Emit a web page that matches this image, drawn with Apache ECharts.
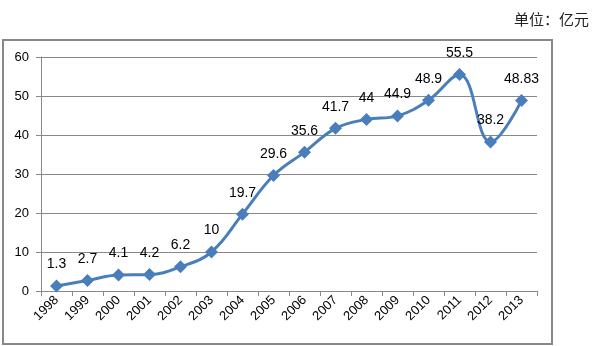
<!DOCTYPE html>
<html><head><meta charset="utf-8">
<script src="https://cdn.jsdelivr.net/npm/echarts@6/dist/echarts.min.js"></script>
<style>html,body{margin:0;padding:0;background:#fff}#c{width:598px;height:346px}</style>
</head><body><div id="c"></div>
<script>
const years = ['1998','1999','2000','2001','2002','2003','2004','2005','2006','2007','2008','2009','2010','2011','2012','2013'];
const values = [1.3, 2.7, 4.1, 4.2, 6.2, 10, 19.7, 29.6, 35.6, 41.7, 44, 44.9, 48.9, 55.5, 38.2, 48.83];
const yTicks = [0, 10, 20, 30, 40, 50, 60];
const unitText = '单位：亿元';

const chart = echarts.init(document.getElementById('c'), null, {renderer: 'canvas'});
const font = '"Liberation Sans", Arial, sans-serif';
chart.setOption({
  animation: false,
  textStyle: {fontFamily: font},
  title: {
    text: unitText, right: 4, top: 7,
    textStyle: {fontSize: 15, fontWeight: 'normal', color: '#222', fontFamily: '"Noto Sans CJK SC", sans-serif'}
  },
  graphic: [{
    type: 'rect', shape: {x: 3, y: 40, width: 549, height: 304},
    style: {fill: 'none', stroke: '#888', lineWidth: 2}, z: -1
  }],
  grid: {left: 41, right: 61, top: 57, bottom: 55, containLabel: false},
  xAxis: {
    type: 'category', data: years, boundaryGap: true,
    axisLine: {lineStyle: {color: '#888', width: 1}},
    axisTick: {show: true, interval: 0, length: 5, lineStyle: {color: '#888'}},
    axisLabel: {rotate: 45, interval: 0, fontSize: 13, color: '#000', margin: 7, fontFamily: font}
  },
  yAxis: {
    type: 'value', min: yTicks[0], max: yTicks[yTicks.length - 1], interval: 10,
    axisLine: {show: true, lineStyle: {color: '#888'}},
    axisTick: {show: true, length: 5, lineStyle: {color: '#888'}},
    axisLabel: {fontSize: 13, color: '#000', margin: 12, fontFamily: font},
    splitLine: {lineStyle: {color: '#888', width: 1}}
  },
  series: [{
    type: 'line', data: values, smooth: 0.4,
    symbol: 'diamond', symbolSize: 13,
    lineStyle: {color: '#4a7ebb', width: 3},
    itemStyle: {color: '#4a7ebb'},
    label: {show: true, position: 'top', distance: 8, fontSize: 14, color: '#000', fontFamily: font}
  }]
});
</script></body></html>
